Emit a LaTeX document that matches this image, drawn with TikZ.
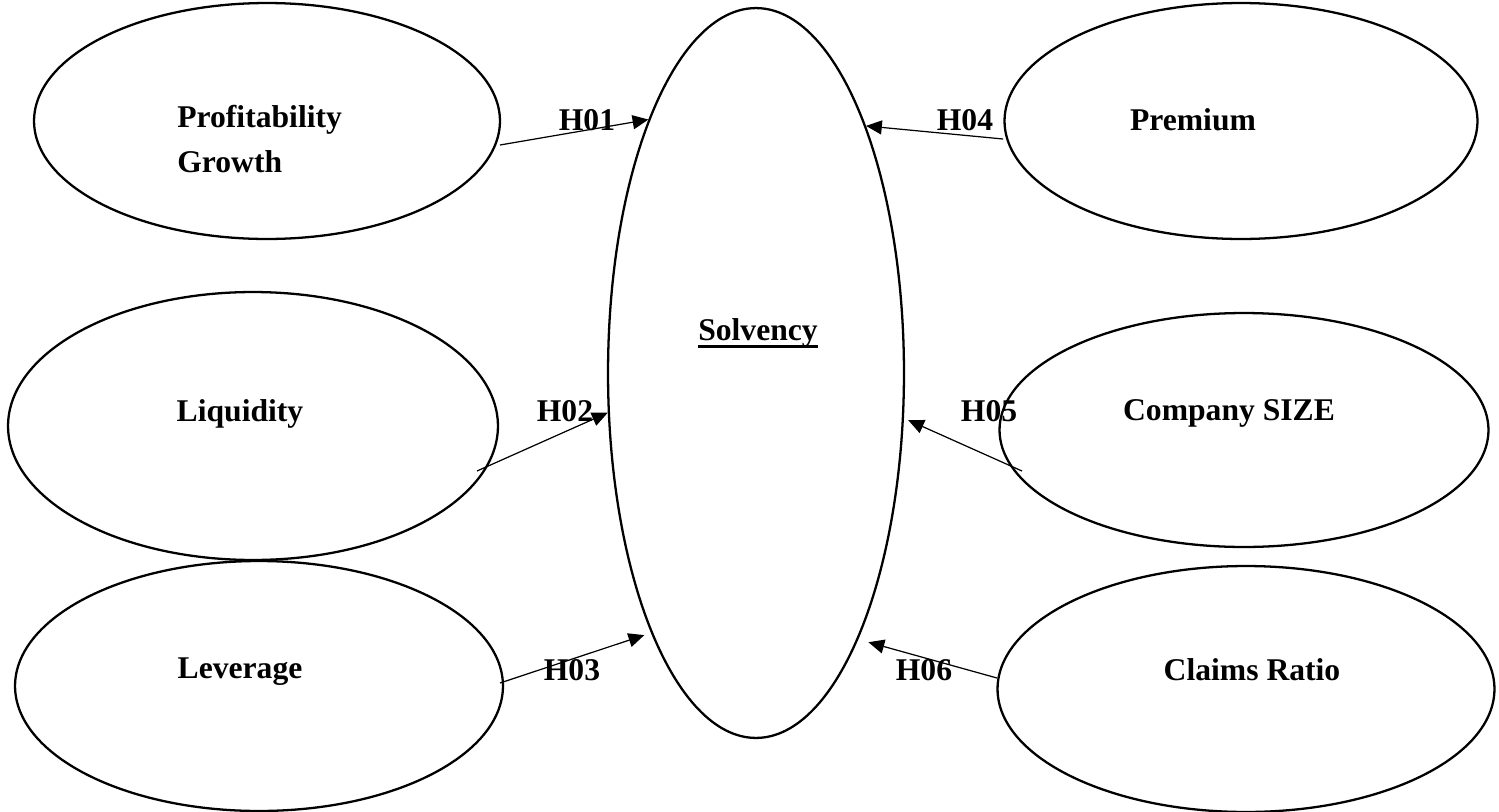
\documentclass[tikz,border=0pt]{standalone}
\usepackage{fontspec}
\setmainfont{Liberation Serif}
\usepackage{tikz}
\usetikzlibrary{shapes.geometric,arrows.meta}
\newcommand{\thickuline}[1]{\setbox0\hbox{#1}\rlap{\rule[-4.5pt]{\wd0}{1.5pt}}\box0}

\begin{document}
\begin{tikzpicture}[x=0.02cm,y=-0.02cm,
  var/.style={ellipse,draw,line width=1.3pt,inner sep=0pt},
  lbl/.style={font=\bfseries\fontsize{18}{25.6}\selectfont,inner sep=0pt,anchor=base},
  hyp/.style={-{Triangle[length=9pt,width=8pt]},line width=0.7pt}]
\useasboundingbox (0,0) rectangle (1499,812);
% variables
\node [var,minimum width=9.32cm,minimum height=4.72cm] (prof) at (267,121) {};
\node [var,minimum width=9.46cm,minimum height=4.72cm] (prem) at (1241,121) {};
\node [var,minimum width=9.80cm,minimum height=5.36cm] (liq) at (253,426) {};
\node [var,minimum width=9.78cm,minimum height=4.68cm] (size) at (1244,430) {};
\node [var,minimum width=9.76cm,minimum height=5.00cm] (lev) at (259,686) {};
\node [var,minimum width=9.94cm,minimum height=4.92cm] (claims) at (1246,689) {};
\node [var,minimum width=5.92cm,minimum height=14.6cm] (solv) at (756,373) {};
% texts
\node [lbl,anchor=base west,align=left] (proftxt) at (177,172) {Profitability\\Growth};
\node [lbl] (premtxt) at (1193,130) {Premium};
\node [lbl] (liqtxt) at (240,421) {Liquidity};
\node [lbl] (sizetxt) at (1229,420) {Company SIZE};
\node [lbl] (levtxt) at (240,678) {Leverage};
\node [lbl] (claimstxt) at (1252,680) {Claims Ratio};
\node [lbl] (solvtxt) at (758,340) {\thickuline{Solvency}};
% hypotheses
\node [lbl] (h01) at (587,130) {H01};
\node [lbl] (h02) at (565,421) {H02};
\node [lbl] (h03) at (572,680) {H03};
\node [lbl] (h04) at (965,130) {H04};
\node [lbl] (h05) at (989,421) {H05};
\node [lbl] (h06) at (924,680) {H06};
\coordinate (t1) at (500,145);
\coordinate (t2) at (477,471);
\coordinate (t3) at (500,683);
\coordinate (t4) at (1003,139);
\coordinate (t5) at (1022,471);
\coordinate (t6) at (997,678);
\draw [hyp] (t1) -- (solv.113.8);
\draw [hyp] (t2) -- (solv.195.7);
\draw [hyp,shorten >=4pt] (t3) -- (solv.248.8);
\draw [hyp] (t4) -- (solv.66.3);
\draw [hyp,shorten >=2.6pt] (t5) -- (solv.-17.8);
\draw [hyp,shorten >=6pt] (t6) -- (solv.-69);
\end{tikzpicture}
\end{document}
